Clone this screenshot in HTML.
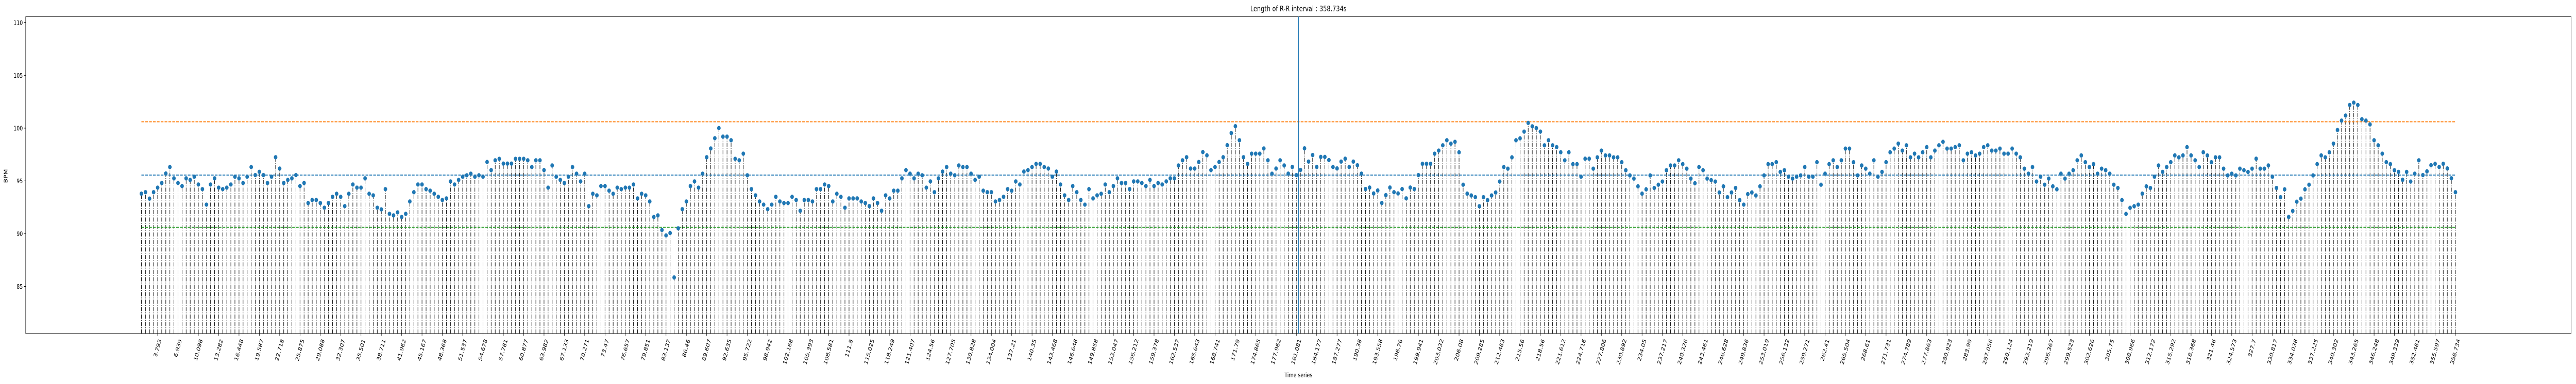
<!DOCTYPE html>
<html><head><meta charset="utf-8"><title>Length of R-R interval</title>
<style>
html,body{margin:0;padding:0;background:#fff;overflow:hidden;}
svg{display:block;width:100vw;height:100vh;font-family:"DejaVu Sans","Liberation Sans",sans-serif;}
</style></head>
<body>
<svg id="chart" viewBox="0 0 6666 746" preserveAspectRatio="none" xmlns="http://www.w3.org/2000/svg">
<rect x="0" y="0" width="6666" height="746" fill="#fff"/>
<text x="3360" y="22" text-anchor="middle" font-size="15.1" fill="#000">Length of R-R interval : 358.734s</text>
<text x="0" y="0" transform="translate(19,342) rotate(-90)" text-anchor="middle" font-size="12.6" fill="#000">BPM</text>
<text x="3360" y="733" text-anchor="middle" font-size="12.6" fill="#000">Time series</text>
<g id="stems"></g>
<g id="hlines"></g>
<g id="markers"></g>
<g id="yaxis"></g>
<g id="xaxis"></g>
<rect x="66.5" y="32.3" width="6586.9" height="615.7" fill="none" stroke="#000" stroke-width="1"/>
</svg>
<script>
const bpmValues = [
93.79,93.93,93.32,93.93,94.36,94.80,95.70,96.31,95.24,94.80,94.51,95.24,95.09,95.39,94.66,94.22,92.75,94.66,95.24,94.36,
94.22,94.36,94.66,95.39,95.24,94.80,95.39,96.31,95.55,95.86,95.55,94.80,95.39,97.24,96.17,94.80,95.09,95.24,95.55,94.51,
94.80,92.90,93.19,93.19,92.90,92.46,92.90,93.49,93.78,93.49,92.61,93.78,94.66,94.36,94.36,95.24,93.78,93.63,92.46,92.30,
94.22,91.88,91.73,92.02,91.58,91.88,93.05,93.93,94.66,94.66,94.22,
94.07,93.78,93.49,93.19,93.34,94.95,94.66,95.09,95.39,95.53,95.68,95.39,95.53,95.39,96.79,96.02,96.95,97.09,96.64,96.64,
96.64,97.09,97.09,97.09,96.95,96.31,96.95,96.95,96.02,94.36,96.46,95.39,95.09,94.80,95.39,96.31,95.68,94.95,95.68,92.61,
93.78,93.63,94.51,94.51,94.07,93.78,94.36,94.22,94.36,94.36,94.66,93.34,93.78,93.63,93.05,91.58,91.73,90.35,89.83,90.06,
85.85,90.51,92.32,93.05,94.51,94.95,94.36,95.68,97.24,98.07,99.04,
100.00,99.19,99.19,98.85,97.09,96.95,97.58,95.53,94.22,93.63,93.05,92.75,92.32,92.75,93.49,93.05,92.90,92.90,93.49,93.19,
92.17,93.19,93.19,93.05,94.22,94.22,94.66,94.51,93.05,93.78,93.49,92.46,93.34,93.34,93.34,93.05,92.90,92.61,93.34,92.90,
92.17,93.63,93.34,94.07,94.07,95.24,96.02,95.68,95.24,95.68,95.53,94.36,94.95,93.93,95.24,95.88,96.31,95.68,95.53,96.46,
96.31,96.31,95.68,95.09,95.39,94.07,93.93,93.93,93.05,93.19,
93.49,94.22,94.07,94.95,94.66,95.88,96.02,96.31,96.61,96.61,96.31,96.17,95.39,95.88,94.66,93.63,93.19,94.51,93.93,93.19,
92.75,94.22,93.34,93.63,93.78,94.66,93.93,94.51,95.24,94.80,94.80,94.22,94.95,94.95,94.80,94.51,95.09,94.51,94.80,94.66,
94.95,95.24,95.24,96.46,96.95,97.24,96.17,96.17,96.79,97.73,97.42,96.02,96.31,96.79,97.24,98.38,99.53,100.18,98.85,97.24,
96.61,97.58,97.58,97.58,98.07,96.95,95.68,96.17,96.95,96.46,
95.69,96.32,95.55,96.04,98.08,96.83,97.45,96.32,97.27,97.27,96.97,96.32,96.18,96.83,97.10,96.32,96.83,96.48,95.69,94.23,
94.37,93.81,94.09,92.91,93.65,94.37,93.93,93.81,94.23,93.35,94.37,94.23,95.55,96.62,
96.62,96.62,97.58,97.87,98.37,98.85,98.53,98.70,97.71,94.64,93.79,93.62,93.46,92.60,93.46,93.18,93.62,93.90,94.94,96.31,
96.16,97.23,98.85,99.03,99.67,100.49,100.17,100.00,99.67,98.37,98.85,98.37,98.20,97.71,96.95,97.71,96.59,96.59,95.39,97.10,
97.10,96.16,97.23,97.87,97.41,97.41,97.23,97.23,96.77,96.01,95.52,95.22,94.48,93.79,94.20,95.52,94.33,94.64,94.94,96.01,
96.46,96.46,
96.95,96.59,96.16,95.22,94.78,96.31,96.01,95.22,95.07,94.94,93.90,94.48,93.46,93.90,94.33,93.18,92.75,93.75,93.90,93.62,
94.48,95.52,96.59,96.59,96.77,95.85,96.01,95.39,95.22,95.39,95.52,96.31,95.39,95.39,96.77,94.64,95.68,96.59,96.95,96.31,
96.95,98.06,98.06,96.77,95.52,96.46,96.16,95.68,96.95,95.39,95.85,96.77,97.71,98.06,98.53,97.87,98.37,97.23,97.58,97.23,
97.71,
98.20,97.23,97.87,98.37,98.70,98.06,98.06,98.20,98.37,96.95,97.58,97.71,97.41,97.58,98.20,98.37,97.87,97.87,98.06,97.58,
97.58,98.06,97.58,97.23,96.16,95.68,96.31,94.94,95.39,94.64,95.22,94.48,94.20,95.68,95.22,95.68,96.01,96.95,97.41,96.77,
96.31,96.59,95.68,96.16,96.01,95.68,94.64,94.33,93.18,91.87,92.45,92.60,92.75,93.79,94.48,94.33,95.39,96.46,95.85,96.31,
96.77,
97.41,97.23,97.41,98.20,97.41,96.95,96.31,97.71,97.41,96.77,97.23,97.23,96.16,95.52,95.68,95.52,96.16,96.01,95.85,96.16,
97.10,96.16,96.16,96.46,95.39,94.33,93.46,94.20,91.58,92.15,93.03,93.32,94.20,94.64,95.52,96.59,97.41,97.23,97.71,98.53,
99.82,100.71,101.19,102.19,102.41,102.19,100.84,100.71,100.35,98.85,98.37,97.58,96.77,96.59,96.01,95.85,95.10,95.85,94.94,95.68,
96.95,
95.55,95.90,96.48,96.62,96.32,96.62,96.18,95.25,93.93
];
const tickLabels = ["3.793","6.939","10.098","13.282","16.448","19.587","22.718","25.875","29.088","32.307","35.501","38.711","41.962","45.167",
"48.368","51.537","54.678","57.781","60.877","63.982","67.133","70.271","73.47","76.657","79.851","83.137","86.46","89.607",
"92.635","95.722","98.942","102.168","105.393","108.581","111.8","115.025","118.249","121.407","124.56","127.705","130.828","134.004",
"137.21","140.35","143.468","146.648","149.858","153.047","156.212","159.378","162.537","165.643","168.741","171.79","174.865","177.962",
"181.081","184.177","187.277","190.38","193.558","196.76","199.941",
"203.032","206.08","209.285","212.483","215.56","218.56","221.612","224.716","227.806","230.892","234.05","237.217",
"240.326","243.461","246.628","249.836","253.019","256.132","259.271","262.41","265.504","268.61","271.731","274.789",
"277.863","280.923","283.99","287.056","290.124","293.219","296.367","299.523","302.626","305.75","308.966","312.172","315.292",
"318.368","321.46","324.573","327.7","330.817","334.038","337.225","340.302","343.265","346.248","349.339","352.481","355.597","358.734"];
const thresholdValues = [100.6, 95.55, 90.6];
const thresholdColors = ["#ff7f0e", "#1f77b4", "#2ca02c"];
const yTickValues = [85, 90, 95, 100, 105, 110];

const NS = "http://www.w3.org/2000/svg";
const PL = 66.5, PR = 6653.4, PT = 32.3, PB = 648;
const n = bpmValues.length;
const xMargin = (n - 1) * 0.05;
const xMin = -xMargin, xMax = (n - 1) + xMargin;
const yMin = 80.54, yMax = 110.56;
function xs(i){ return PL + (i - xMin) / (xMax - xMin) * (PR - PL); }
function ys(v){ return PB - (v - yMin) / (yMax - yMin) * (PB - PT); }
function mk(tag, attrs, parent){
  const e = document.createElementNS(NS, tag);
  for (const k in attrs) e.setAttribute(k, attrs[k]);
  parent.appendChild(e);
  return e;
}
const gStems = document.getElementById("stems");
const gMarkers = document.getElementById("markers");
const gH = document.getElementById("hlines");
const gY = document.getElementById("yaxis");
const gX = document.getElementById("xaxis");

for (let i = 0; i < n; i++) {
  const x = xs(i), y = ys(bpmValues[i]);
  const s = mk("line", {x1:x, x2:x, y1:PB, y2:y, stroke:"#000", "stroke-width":1.2, "stroke-dasharray":"8,2.5,1.5,2.5"}, gStems);
  
  
}
for (let k = 0; k < thresholdValues.length; k++) {
  const y = ys(thresholdValues[k]);
  const l = mk("line", {x1:xs(0), x2:xs(n - 1), y1:y, y2:y, stroke:thresholdColors[k], "stroke-width":1.9, "stroke-dasharray":"7,3"}, gH);
  
  
}
for (let i = 0; i < n; i++) {
  const c = mk("ellipse", {cx:xs(i), cy:ys(bpmValues[i]), rx:4.6, ry:4.2, fill:"#1f77b4"}, gMarkers);
  
  
}
const mid = mk("line", {x1:xs((n - 1) / 2), x2:xs((n - 1) / 2), y1:PT, y2:PB, stroke:"#1f77b4", "stroke-width":2}, document.getElementById("chart"));



for (const v of yTickValues) {
  const y = ys(v);
  const t = mk("line", {x1:PL - 4.4, x2:PL, y1:y, y2:y, stroke:"#000", "stroke-width":1}, gY);
  
  
  const tx = mk("text", {x:PL - 7.5, y:y + 4.5, "text-anchor":"end", "font-size":12.6, fill:"#000"}, gY);
  tx.textContent = String(v);
  
  
}
for (let k = 0; k < tickLabels.length; k++) {
  const idx = 4 + 5 * k;
  const x = xs(idx);
  const t = mk("line", {x1:x, x2:x, y1:PB, y2:PB + 4.4, stroke:"#000", "stroke-width":1}, gX);
  
  
  const tx = mk("text", {x:0, y:0, "text-anchor":"middle", "font-size":12.6, fill:"#000", "dominant-baseline":"central"}, gX);
  tx.textContent = tickLabels[k];
  
  
  const w = tickLabels[k].length * 7.3;
  const h = 12.6;
  const cy = PB + 4.4 + 4.9 + (0.94 * w + 0.342 * h) / 2;
  tx.setAttribute("transform", "translate(" + x + "," + cy + ") rotate(-70)");
}
</script>
</body></html>
